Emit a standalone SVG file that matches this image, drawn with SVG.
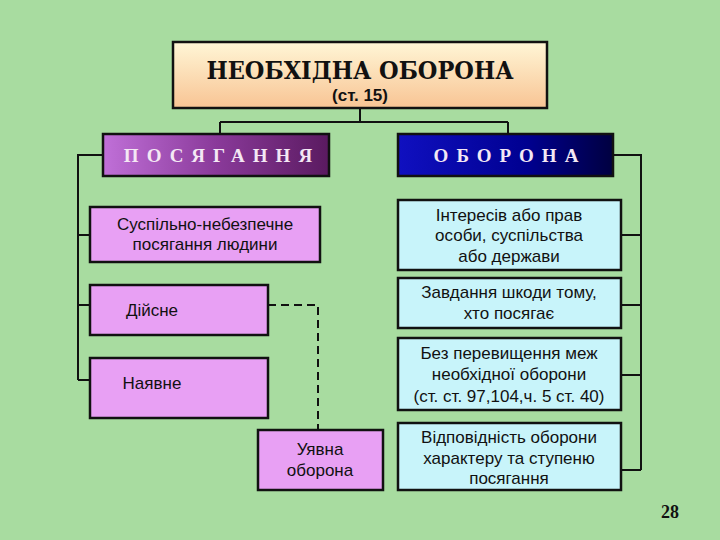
<svg xmlns="http://www.w3.org/2000/svg" width="720" height="540" viewBox="0 0 720 540">
<defs>
<linearGradient id="gt" x1="0" y1="0" x2="0" y2="1"><stop offset="0" stop-color="#fff6d6"/><stop offset="1" stop-color="#f8c494"/></linearGradient>
<linearGradient id="gp" x1="0" y1="0" x2="1" y2="0"><stop offset="0" stop-color="#c070d8"/><stop offset="0.5" stop-color="#8a3a9a"/><stop offset="1" stop-color="#5a1a60"/></linearGradient>
<linearGradient id="gb" x1="0" y1="0" x2="1" y2="0"><stop offset="0" stop-color="#1010c0"/><stop offset="0.6" stop-color="#000090"/><stop offset="1" stop-color="#000040"/></linearGradient>
<style>
.b{stroke:#111;stroke-width:2.5}
.p{fill:#e8a0f4}
.c{fill:#c8f4fa}
.t{font-family:"Liberation Sans",Arial,sans-serif;font-size:17px;fill:#111;text-anchor:middle}
.h{font-family:"Liberation Serif",serif;font-weight:bold;font-size:19px;fill:#f4e8f4;letter-spacing:8px;text-anchor:middle}
.l{fill:none;stroke:#111;stroke-width:2}
</style>
</defs>
<rect width="720" height="540" fill="#a8dca0"/>
<g id="connectors">
<path class="l" d="M360 108V122M220 122H508M220 122V134M508 122V134"/>
<path class="l" d="M103 155H78V380M78 235H90M78 305H90M78 380H90"/>
<path class="l" d="M613 155H641V470M621 235H641M621 305H641M621 375H641M621 470H641"/>
<path class="l" stroke-dasharray="8,5" d="M268 305H318V430"/>
</g>
<g id="title"><rect class="b" x="173" y="42" width="374" height="66" fill="url(#gt)"/>
<text x="360" y="79" font-family="'DejaVu Serif Condensed','DejaVu Serif',serif" font-weight="bold" font-size="25" text-anchor="middle" fill="#111">НЕОБХІДНА  ОБОРОНА</text>
<text class="t" x="360" y="101" font-weight="bold">(ст.  15)</text></g>
<g id="posyagannya"><rect class="b" x="103" y="134" width="226" height="42" fill="url(#gp)"/><text class="h" x="222" y="162">ПОСЯГАННЯ</text></g>
<g id="oborona"><rect class="b" x="398" y="134" width="215" height="42" fill="url(#gb)"/><text class="h" x="510" y="162">ОБОРОНА</text></g>
<g id="n1"><rect class="b p" x="90" y="207" width="230" height="55"/><text class="t" x="205" y="230">Суспільно-небезпечне</text><text class="t" x="205" y="250">посягання людини</text></g>
<g id="n2"><rect class="b p" x="90" y="285" width="178" height="50"/><text class="t" x="152" y="316">Дійсне</text></g>
<g id="n3"><rect class="b p" x="90" y="358" width="178" height="60"/><text class="t" x="152" y="389">Наявне</text></g>
<g id="n4"><rect class="b p" x="258" y="430" width="125" height="60"/><text class="t" x="320" y="455">Уявна</text><text class="t" x="320" y="476">оборона</text></g>
<g id="r1"><rect class="b c" x="398" y="200" width="223" height="70"/><text class="t" x="509" y="221">Інтересів або прав</text><text class="t" x="509" y="241">особи, суспільства</text><text class="t" x="509" y="262">або держави</text></g>
<g id="r2"><rect class="b c" x="398" y="278" width="223" height="50"/><text class="t" x="509" y="298">Завдання шкоди тому,</text><text class="t" x="509" y="319">хто посягає</text></g>
<g id="r3"><rect class="b c" x="398" y="338" width="223" height="72"/><text class="t" x="509" y="359">Без перевищення меж</text><text class="t" x="509" y="380">необхідної оборони</text><text class="t" x="509" y="402">(ст. ст. 97,104,ч. 5 ст. 40)</text></g>
<g id="r4"><rect class="b c" x="398" y="423" width="223" height="67"/><text class="t" x="509" y="443">Відповідність оборони</text><text class="t" x="509" y="464">характеру та ступеню</text><text class="t" x="509" y="484">посягання</text></g>
<text x="670" y="518" font-family="'Liberation Serif',serif" font-weight="bold" font-size="18" text-anchor="middle" fill="#111">28</text>
</svg>
